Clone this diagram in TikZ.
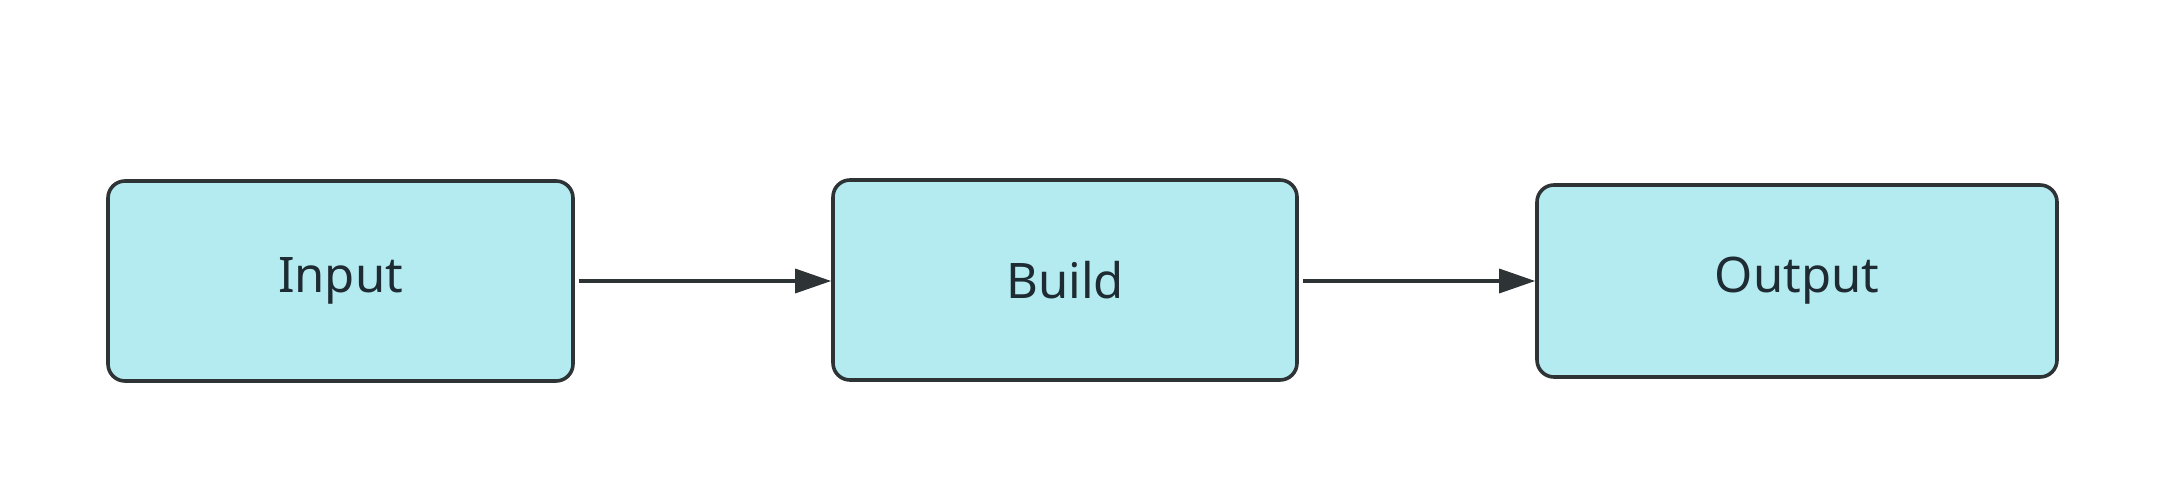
\documentclass[tikz,border=0pt]{standalone}
\usepackage{fontspec}
\setmainfont{Noto Sans}
\usetikzlibrary{arrows.meta}
\definecolor{boxfill}{HTML}{B3EBF0}
\definecolor{boxline}{HTML}{2E3436}
\definecolor{txt}{HTML}{1E2B33}
\tikzset{
  stepbox/.style={draw=boxline, fill=boxfill, line width=3.6pt, rounded corners=17pt,
    text=txt, font=\fontsize{49}{56}\selectfont, inner sep=0pt},
  conn/.style={draw=boxline, line width=3.4pt, shorten <=4pt,
    -{Triangle[length=36pt,width=24pt]}}
}
\begin{document}
\begin{tikzpicture}[x=1pt,y=-1pt]
\useasboundingbox (0,0) rectangle (2168,494);
\node[stepbox, minimum width=465pt, minimum height=200pt] (in) at (340.5,281) {Input};
\node[stepbox, minimum width=464pt, minimum height=200pt] (bu) at (1065,280) {Build};
\node[stepbox, minimum width=520pt, minimum height=192pt] (out) at (1797,281) {Output};
\draw[conn] (in.east |- 0,281) -- (bu.west |- 0,281);
\draw[conn] (bu.east |- 0,281) -- (out.west |- 0,281);
\end{tikzpicture}
\end{document}
